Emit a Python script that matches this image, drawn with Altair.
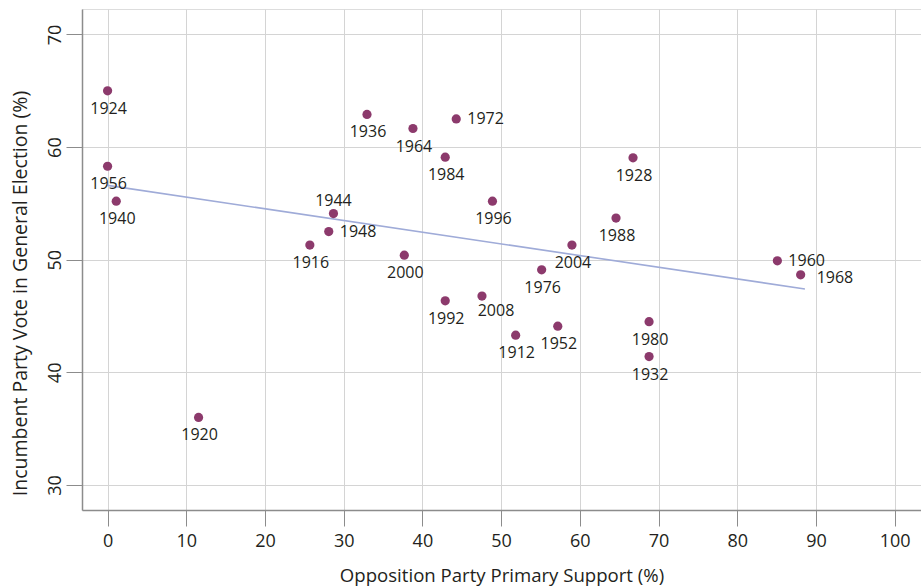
import altair as alt
import pandas as pd

years = [1912, 1916, 1920, 1924, 1928, 1932, 1936, 1940, 1944, 1948, 1952, 1956, 1960,
         1964, 1968, 1972, 1976, 1980, 1984, 1988, 1992, 1996, 2000, 2004, 2008]
support = [51.85, 25.7, 11.56, 0.0, 66.76, 68.8, 32.96, 1.1, 28.7, 28.1, 57.2, 0.0, 85.1,
           38.8, 88.06, 44.3, 55.15, 68.8, 42.9, 64.6, 42.9, 48.9, 37.7, 59.0, 47.57]
vote = [43.3, 51.3, 36.0, 65.0, 59.05, 41.4, 62.9, 55.2, 54.1, 52.5, 44.1, 58.3, 49.9,
        61.65, 48.66, 62.5, 49.1, 44.5, 59.1, 53.7, 46.35, 55.2, 50.4, 51.3, 46.77]
placement = ["below", "below", "below", "below", "below", "below", "below", "below", "above",
             "right", "below", "below", "right", "below", "rightlow", "right", "below", "below",
             "below", "below", "below", "below", "below", "below", "belowright"]

# fitted trend line as drawn in the reference (endpoints)
fit_support = [0.0, 88.6]
fit_vote = [56.6, 47.4]

x_ticks = [0, 10, 20, 30, 40, 50, 60, 70, 80, 90, 100]
y_ticks = [30, 40, 50, 60, 70]

df = pd.DataFrame({"year": [str(y) for y in years], "support": support,
                   "vote": vote, "place": placement})
fit_df = pd.DataFrame({"support": fit_support, "vote": fit_vote})

FONT = "Open Sans"
TXT = "#231f20"

xs = alt.Scale(domain=[-3.25, 103.35], nice=False, zero=False)
ys = alt.Scale(domain=[27.78, 72.26], nice=False, zero=False)

xax = alt.Axis(values=x_ticks, title="Opposition Party Primary Support (%)",
               grid=True, gridColor="#d4d4d4", gridWidth=1,
               domainColor="#8c8c8c", domainWidth=1.5,
               tickColor="#8c8c8c", tickSize=16, tickWidth=1,
               labelFont=FONT, labelFontSize=18, labelColor=TXT, labelPadding=6,
               titleFont=FONT, titleFontSize=18.6, titleFontWeight="normal",
               titleColor=TXT, titleY=65, titleBaseline="middle")
yax = alt.Axis(values=y_ticks, title="Incumbent Party Vote in General Election (%)",
               grid=True, gridColor="#d4d4d4", gridWidth=1,
               domainColor="#8c8c8c", domainWidth=1.5,
               tickColor="#8c8c8c", tickSize=16, tickWidth=1,
               labelFont=FONT, labelFontSize=18, labelColor=TXT, labelPadding=2,
               labelAngle=270, labelAlign="center", labelBaseline="bottom",
               titleFont=FONT, titleFontSize=19.5, titleFontWeight="normal",
               titleColor=TXT, titleAngle=270, titleAlign="center",
               titleBaseline="middle", titleX=-62, titleY=284)

base = alt.Chart(df)

points = base.mark_circle(size=85, color="#8c3a6c", opacity=1).encode(
    x=alt.X("support:Q", scale=xs, axis=xax),
    y=alt.Y("vote:Q", scale=ys, axis=yax),
)

reg = alt.Chart(fit_df).mark_line(color="#9fabd8", strokeWidth=1.6).encode(
    x=alt.X("support:Q", scale=xs), y=alt.Y("vote:Q", scale=ys))


def labels(place, **kw):
    return base.transform_filter(alt.datum.place == place).mark_text(
        font=FONT, fontSize=16, color=TXT, baseline="middle", **kw
    ).encode(x=alt.X("support:Q", scale=xs), y=alt.Y("vote:Q", scale=ys), text="year:N")


lab_below = labels("below", align="center", dx=1, dy=18)
lab_above = labels("above", align="center", dy=-13)
lab_right = labels("right", align="left", dx=11, dy=0)
lab_rightlow = labels("rightlow", align="left", dx=16, dy=3)
lab_br = labels("belowright", align="center", dx=14, dy=15)

chart = alt.layer(reg, points, lab_below, lab_above, lab_right, lab_rightlow, lab_br).properties(
    width=839, height=501,
    autosize=alt.AutoSizeParams(type="none"),
    padding={"left": 82, "top": 9, "right": 0, "bottom": 78},
).configure_view(stroke=None).configure(background="white")

chart.save("out.html", embed_options={"renderer": "svg", "actions": False})
